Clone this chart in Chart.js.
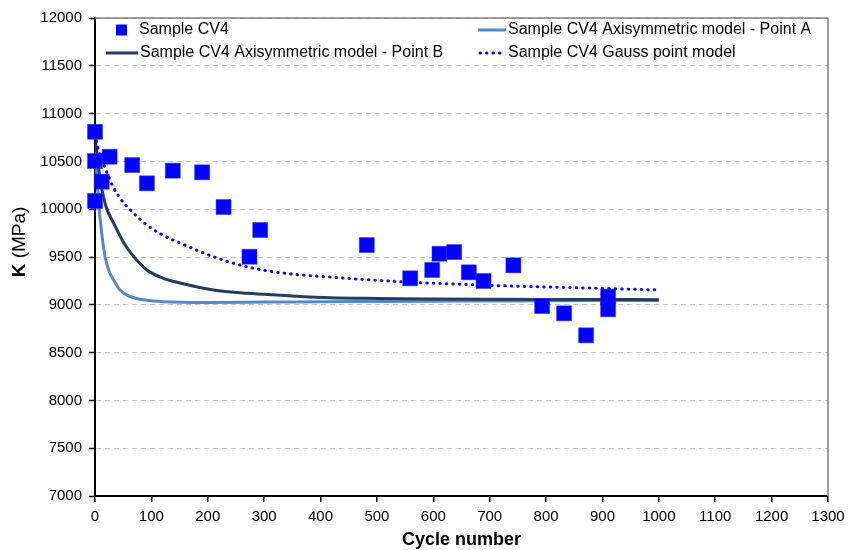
<!DOCTYPE html>
<html><head><meta charset="utf-8">
<script src="https://cdn.jsdelivr.net/npm/chart.js@4"></script>
<style>html,body{margin:0;padding:0;background:#fff}</style>
</head><body>
<canvas id="c" width="848" height="550"></canvas>
<script>
// ---- data ----
const cv4Cycles = [0, 0, 0, 12, 26, 66, 92, 138, 190, 228, 274, 293, 482, 559, 598, 611, 637, 663, 689, 742, 793, 832, 871, 910, 910];
const cv4K      = [10810, 10504, 10086, 10288, 10549, 10462, 10271, 10403, 10386, 10023, 9503, 9782, 9625, 9277, 9364, 9534, 9552, 9340, 9249, 9413, 8987, 8911, 8681, 9085, 8953];

const pointACycles = [0, 3, 6, 10, 14, 18, 25, 33, 45, 63, 90, 122, 200, 300, 400, 500, 600, 700, 800, 900, 1000];
const pointAK      = [10750, 10400, 10100, 9850, 9650, 9500, 9350, 9260, 9150, 9085, 9050, 9033, 9025, 9028, 9032, 9035, 9038, 9040, 9042, 9044, 9045];

const pointBCycles = [0, 5, 10, 20, 33, 50, 63, 92, 120, 151, 210, 270, 329, 417, 500, 600, 700, 800, 900, 1000];
const pointBK      = [10750, 10500, 10280, 10020, 9855, 9660, 9545, 9364, 9280, 9228, 9155, 9120, 9100, 9074, 9066, 9061, 9058, 9056, 9055, 9054];

const gaussCycles = [0, 6, 18, 30, 45, 63, 92, 120, 151, 210, 269, 329, 417, 541, 718, 896, 1000];
const gaussK      = [10780, 10620, 10430, 10260, 10110, 9990, 9835, 9730, 9646, 9503, 9398, 9335, 9290, 9242, 9200, 9172, 9155];

const seriesNames = ['Sample CV4', 'Sample CV4 Axisymmetric model - Point A', 'Sample CV4 Axisymmetric model - Point B', 'Sample CV4 Gauss point model'];
const xTitle = 'Cycle number';
const yTitleBold = 'K';
const yTitleRest = ' (MPa)';
const xRange = [0, 1300, 100];
const yRange = [7000, 12000, 500];

const colCV4 = '#0000ff';
const colA = '#5689c9';
const colB = '#223d5e';
const colG = '#0a0af0';
const FONT = "'Liberation Sans', Arial, sans-serif";

const pts = (xs, ys) => xs.map((x, i) => ({x: x, y: ys[i]}));

const overlay = {
  id: 'overlay',
  afterDraw(chart) {
    const ctx = chart.ctx, a = chart.chartArea;
    ctx.save();
    // top/right frame
    ctx.strokeStyle = '#808080'; ctx.lineWidth = 1.5;
    ctx.beginPath(); ctx.moveTo(a.left, a.top); ctx.lineTo(a.right, a.top); ctx.lineTo(a.right, a.bottom); ctx.stroke();
    // legend
    ctx.font = '16px ' + FONT; ctx.fillStyle = '#000'; ctx.textBaseline = 'middle'; ctx.textAlign = 'left';
    const r1 = a.top + 12, r2 = a.top + 35;
    const lx = a.left, rx = a.left + 383;
    ctx.fillStyle = colCV4; ctx.fillRect(lx + 21, r1 - 5.5, 11, 11);
    ctx.fillStyle = '#000'; ctx.fillText(seriesNames[0], lx + 44, r1);
    ctx.lineWidth = 3; ctx.strokeStyle = colA;
    ctx.beginPath(); ctx.moveTo(rx, r1); ctx.lineTo(rx + 28, r1); ctx.stroke();
    ctx.fillText(seriesNames[1], rx + 30, r1);
    ctx.strokeStyle = colB;
    ctx.beginPath(); ctx.moveTo(lx + 11, r2); ctx.lineTo(lx + 43, r2); ctx.stroke();
    ctx.fillText(seriesNames[2], lx + 45, r2);
    ctx.strokeStyle = colG; ctx.lineCap = 'round'; ctx.setLineDash([0.5, 6]);
    ctx.beginPath(); ctx.moveTo(rx + 2, r2); ctx.lineTo(rx + 28, r2); ctx.stroke();
    ctx.setLineDash([]); ctx.lineCap = 'butt';
    ctx.fillText(seriesNames[3], rx + 30, r2);
    // x title
    ctx.font = 'bold 18px ' + FONT; ctx.textAlign = 'center';
    ctx.fillText(xTitle, (a.left + a.right) / 2, 540);
    // y title
    ctx.translate(20, 242); ctx.rotate(-Math.PI / 2);
    ctx.font = 'bold 19px ' + FONT; const w1 = ctx.measureText(yTitleBold).width;
    ctx.font = '19px ' + FONT; const w2 = ctx.measureText(yTitleRest).width;
    const sx = -(w1 + w2) / 2;
    ctx.textAlign = 'left';
    ctx.font = 'bold 19px ' + FONT; ctx.fillText(yTitleBold, sx, 0);
    ctx.font = '19px ' + FONT; ctx.fillText(yTitleRest, sx + w1, 0);
    ctx.restore();
  }
};

const plain = v => String(v);

new Chart(document.getElementById('c'), {
  type: 'scatter',
  data: {
    datasets: [
      {label: seriesNames[0], data: pts(cv4Cycles, cv4K), pointStyle: 'rect', pointRadius: 10.6, pointHoverRadius: 10.6,
       backgroundColor: colCV4, borderColor: '#2a2aff', borderWidth: 0.5, showLine: false, clip: false, order: 0},
      {label: seriesNames[1], data: pts(pointACycles, pointAK), showLine: true, pointRadius: 0, borderColor: colA, borderWidth: 3,
       cubicInterpolationMode: 'monotone', order: 3},
      {label: seriesNames[2], data: pts(pointBCycles, pointBK), showLine: true, pointRadius: 0, borderColor: colB, borderWidth: 3,
       cubicInterpolationMode: 'monotone', order: 2},
      {label: seriesNames[3], data: pts(gaussCycles, gaussK), showLine: true, pointRadius: 0, borderColor: colG, borderWidth: 3,
       borderDash: [0.5, 6], borderCapStyle: 'round', cubicInterpolationMode: 'monotone', order: 1}
    ]
  },
  options: {
    responsive: false, animation: false,
    layout: {padding: {left: 0, right: 20, top: 18, bottom: 0}},
    plugins: {legend: {display: false}, tooltip: {enabled: false}},
    scales: {
      x: {
        type: 'linear', min: xRange[0], max: xRange[1],
        afterFit(s) { s.height = 54; s.paddingRight = 0; s.paddingLeft = 0; },
        ticks: {stepSize: xRange[2], color: '#000', font: {family: FONT, size: 15}, padding: 6, maxRotation: 0, callback: plain},
        grid: {drawOnChartArea: false, drawTicks: true, tickLength: 6, color: '#000', tickColor: '#000', lineWidth: 1.5},
        border: {color: '#000', width: 2}
      },
      y: {
        type: 'linear', min: yRange[0], max: yRange[1],
        afterFit(s) { s.width = 95; s.paddingTop = 0; s.paddingBottom = 0; },
        ticks: {stepSize: yRange[2], color: '#000', font: {family: FONT, size: 15}, padding: 7, callback: plain},
        grid: {color: '#c4c4c4', lineWidth: 1, tickLength: 6, tickColor: '#000', tickWidth: 1.5},
        border: {color: '#000', width: 2, dash: [5, 4]}
      }
    }
  },
  plugins: [overlay]
});
</script>
</body></html>
